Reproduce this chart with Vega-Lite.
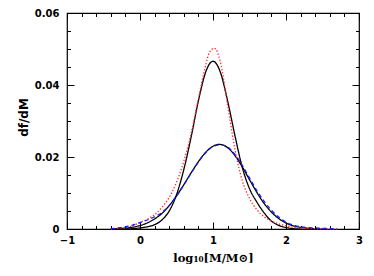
{
  "$schema": "https://vega.github.io/schema/vega-lite/v6.json",
  "width": 292,
  "height": 216,
  "autosize": {"type": "none"},
  "padding": {"left": 67, "top": 13, "right": 15, "bottom": 47},
  "background": "white",
  "config": {
    "view": {"stroke": "black", "strokeWidth": 1.2},
    "axis": {
      "labelFont": "DejaVu Sans", "labelFontWeight": "bold", "labelFontSize": 10, "labelColor": "black",
      "titleFont": "DejaVu Sans", "titleFontWeight": "bold", "titleFontSize": 12, "titleColor": "black",
      "tickColor": "black", "tickWidth": 1, "domain": false, "grid": false
    }
  },
  "data": {"values": [
    {"s":"A","x":-0.2,"y":0},{"s":"A","x":-0.1,"y":0.0001},{"s":"A","x":0.0,"y":0.0003},{"s":"A","x":0.1,"y":0.0006},{"s":"A","x":0.2,"y":0.0012},{"s":"A","x":0.3,"y":0.0025},{"s":"A","x":0.4,"y":0.005},{"s":"A","x":0.5,"y":0.0095},{"s":"A","x":0.6,"y":0.0165},{"s":"A","x":0.7,"y":0.0255},{"s":"A","x":0.8,"y":0.0356},{"s":"A","x":0.9,"y":0.0436},{"s":"A","x":0.95,"y":0.0458},{"s":"A","x":1.0,"y":0.0466},{"s":"A","x":1.05,"y":0.0458},{"s":"A","x":1.1,"y":0.0436},{"s":"A","x":1.2,"y":0.0356},{"s":"A","x":1.3,"y":0.026},{"s":"A","x":1.4,"y":0.0172},{"s":"A","x":1.5,"y":0.0112},{"s":"A","x":1.6,"y":0.0075},{"s":"A","x":1.7,"y":0.0045},{"s":"A","x":1.8,"y":0.0022},{"s":"A","x":1.9,"y":0.001},{"s":"A","x":2.0,"y":0.0004},{"s":"A","x":2.1,"y":0.0001},{"s":"A","x":2.2,"y":0},
    {"s":"C","x":-0.4,"y":0},{"s":"C","x":-0.3,"y":0.0001},{"s":"C","x":-0.2,"y":0.00026},{"s":"C","x":-0.1,"y":0.0005},{"s":"C","x":0.0,"y":0.00095},{"s":"C","x":0.1,"y":0.0017},{"s":"C","x":0.2,"y":0.0028},{"s":"C","x":0.3,"y":0.0043},{"s":"C","x":0.4,"y":0.0065},{"s":"C","x":0.5,"y":0.0092},{"s":"C","x":0.6,"y":0.0123},{"s":"C","x":0.7,"y":0.0156},{"s":"C","x":0.8,"y":0.0187},{"s":"C","x":0.9,"y":0.0213},{"s":"C","x":1.0,"y":0.023},{"s":"C","x":1.09,"y":0.0235},{"s":"C","x":1.2,"y":0.0226},{"s":"C","x":1.3,"y":0.0204},{"s":"C","x":1.4,"y":0.0173},{"s":"C","x":1.5,"y":0.0137},{"s":"C","x":1.6,"y":0.0102},{"s":"C","x":1.7,"y":0.0071},{"s":"C","x":1.8,"y":0.0047},{"s":"C","x":1.9,"y":0.0029},{"s":"C","x":2.0,"y":0.00165},{"s":"C","x":2.1,"y":0.0009},{"s":"C","x":2.2,"y":0.00045},{"s":"C","x":2.3,"y":0.0002},{"s":"C","x":2.4,"y":0.0001},{"s":"C","x":2.5,"y":0},
    {"s":"B","x":-0.4,"y":0},{"s":"B","x":-0.3,"y":0.0002},{"s":"B","x":-0.2,"y":0.0004},{"s":"B","x":-0.1,"y":0.0009},{"s":"B","x":0.0,"y":0.0018},{"s":"B","x":0.1,"y":0.0027},{"s":"B","x":0.2,"y":0.004},{"s":"B","x":0.3,"y":0.006},{"s":"B","x":0.4,"y":0.0088},{"s":"B","x":0.5,"y":0.013},{"s":"B","x":0.6,"y":0.0188},{"s":"B","x":0.7,"y":0.0265},{"s":"B","x":0.8,"y":0.0362},{"s":"B","x":0.9,"y":0.0455},{"s":"B","x":0.95,"y":0.049},{"s":"B","x":1.02,"y":0.0502},{"s":"B","x":1.1,"y":0.0465},{"s":"B","x":1.2,"y":0.0345},{"s":"B","x":1.3,"y":0.0222},{"s":"B","x":1.4,"y":0.0135},{"s":"B","x":1.5,"y":0.0085},{"s":"B","x":1.6,"y":0.0054},{"s":"B","x":1.7,"y":0.0034},{"s":"B","x":1.8,"y":0.0022},{"s":"B","x":1.9,"y":0.0014},{"s":"B","x":2.0,"y":0.0009},{"s":"B","x":2.1,"y":0.0005},{"s":"B","x":2.2,"y":0.0003},{"s":"B","x":2.4,"y":0.0001},{"s":"B","x":2.7,"y":0},
    {"s":"D","x":-0.4,"y":0.0001},{"s":"D","x":-0.3,"y":0.0003},{"s":"D","x":-0.2,"y":0.0006},{"s":"D","x":-0.1,"y":0.0011},{"s":"D","x":0.0,"y":0.0018},{"s":"D","x":0.1,"y":0.0025},{"s":"D","x":0.2,"y":0.0034},{"s":"D","x":0.3,"y":0.0046},{"s":"D","x":0.4,"y":0.0065},{"s":"D","x":0.5,"y":0.0091},{"s":"D","x":0.6,"y":0.0122},{"s":"D","x":0.7,"y":0.0155},{"s":"D","x":0.8,"y":0.0186},{"s":"D","x":0.9,"y":0.0212},{"s":"D","x":1.0,"y":0.0229},{"s":"D","x":1.1,"y":0.0234},{"s":"D","x":1.2,"y":0.0228},{"s":"D","x":1.3,"y":0.0207},{"s":"D","x":1.4,"y":0.0177},{"s":"D","x":1.5,"y":0.0142},{"s":"D","x":1.6,"y":0.0107},{"s":"D","x":1.7,"y":0.0077},{"s":"D","x":1.8,"y":0.0052},{"s":"D","x":1.9,"y":0.0033},{"s":"D","x":2.0,"y":0.0019},{"s":"D","x":2.1,"y":0.0011},{"s":"D","x":2.2,"y":0.0006},{"s":"D","x":2.3,"y":0.0004},{"s":"D","x":2.4,"y":0.0003},{"s":"D","x":2.5,"y":0.0002},{"s":"D","x":2.6,"y":0.0001},{"s":"D","x":2.7,"y":0}
  ]},
  "resolve": {"axis": {"x": "independent", "y": "independent"}},
  "layer": [
    {
      "mark": {"type": "line", "interpolate": "monotone"},
      "encoding": {
        "x": {"field": "x", "type": "quantitative",
          "scale": {"domain": [-1, 3], "nice": false, "zero": false},
          "axis": {"orient": "bottom",
            "values": [-1,-0.8,-0.6,-0.4,-0.2,0,0.2,0.4,0.6,0.8,1,1.2,1.4,1.6,1.8,2,2.2,2.4,2.6,2.8,3],
            "tickSize": {"condition": {"test": "abs(datum.value-round(datum.value))<1e-6", "value": -7}, "value": -3.5},
            "labelExpr": "abs(datum.value-round(datum.value))<1e-6 ? replace(format(datum.value,'d'),'-','−') : ''",
            "labelPadding": 13, "labelFlush": false, "labelOverlap": false,
            "title": "log₁₀[M/M⊙]", "titleFont": "DejaVu Serif", "titleFontSize": 11.5, "titleX": 146, "titleY": 29, "titleBaseline": "middle"}},
        "y": {"field": "y", "type": "quantitative",
          "scale": {"domain": [0, 0.06], "nice": false},
          "axis": {"orient": "left",
            "values": [0,0.005,0.01,0.015,0.02,0.025,0.03,0.035,0.04,0.045,0.05,0.055,0.06],
            "tickSize": {"condition": {"test": "abs(datum.value*50-round(datum.value*50))<1e-6", "value": -7}, "value": -3.5},
            "labelExpr": "abs(datum.value*50-round(datum.value*50))<1e-6 ? (datum.value==0 ? '0' : format(datum.value,'.2f')) : ''",
            "labelPadding": 15, "labelFlush": false, "labelOverlap": false,
            "title": "df/dM", "titleX": -44, "titleY": 104, "titleAngle": -90, "titleBaseline": "middle", "titleAlign": "center"}},
        "color": {"field": "s", "type": "nominal", "legend": null,
          "scale": {"domain": ["A","B","C","D"], "range": ["black","#ff3030","black","#1a1aff"]}},
        "strokeDash": {"field": "s", "type": "nominal", "legend": null,
          "scale": {"domain": ["A","B","C","D"], "range": [[1,0],[1.4,1.8],[1,0],[4,3]]}},
        "strokeWidth": {"field": "s", "type": "nominal", "legend": null,
          "scale": {"domain": ["A","B","C","D"], "range": [1.3,1.3,1.3,1.8]}}
      }
    },
    {
      "mark": {"type": "point", "opacity": 0},
      "encoding": {
        "x": {"field": "x", "type": "quantitative",
          "axis": {"orient": "top",
            "values": [-1,-0.8,-0.6,-0.4,-0.2,0,0.2,0.4,0.6,0.8,1,1.2,1.4,1.6,1.8,2,2.2,2.4,2.6,2.8,3],
            "tickSize": {"condition": {"test": "abs(datum.value-round(datum.value))<1e-6", "value": -7}, "value": -3.5},
            "labels": false, "title": null}},
        "y": {"field": "y", "type": "quantitative",
          "axis": {"orient": "right",
            "values": [0,0.005,0.01,0.015,0.02,0.025,0.03,0.035,0.04,0.045,0.05,0.055,0.06],
            "tickSize": {"condition": {"test": "abs(datum.value*50-round(datum.value*50))<1e-6", "value": -7}, "value": -3.5},
            "labels": false, "title": null}}
      }
    }
  ]
}
